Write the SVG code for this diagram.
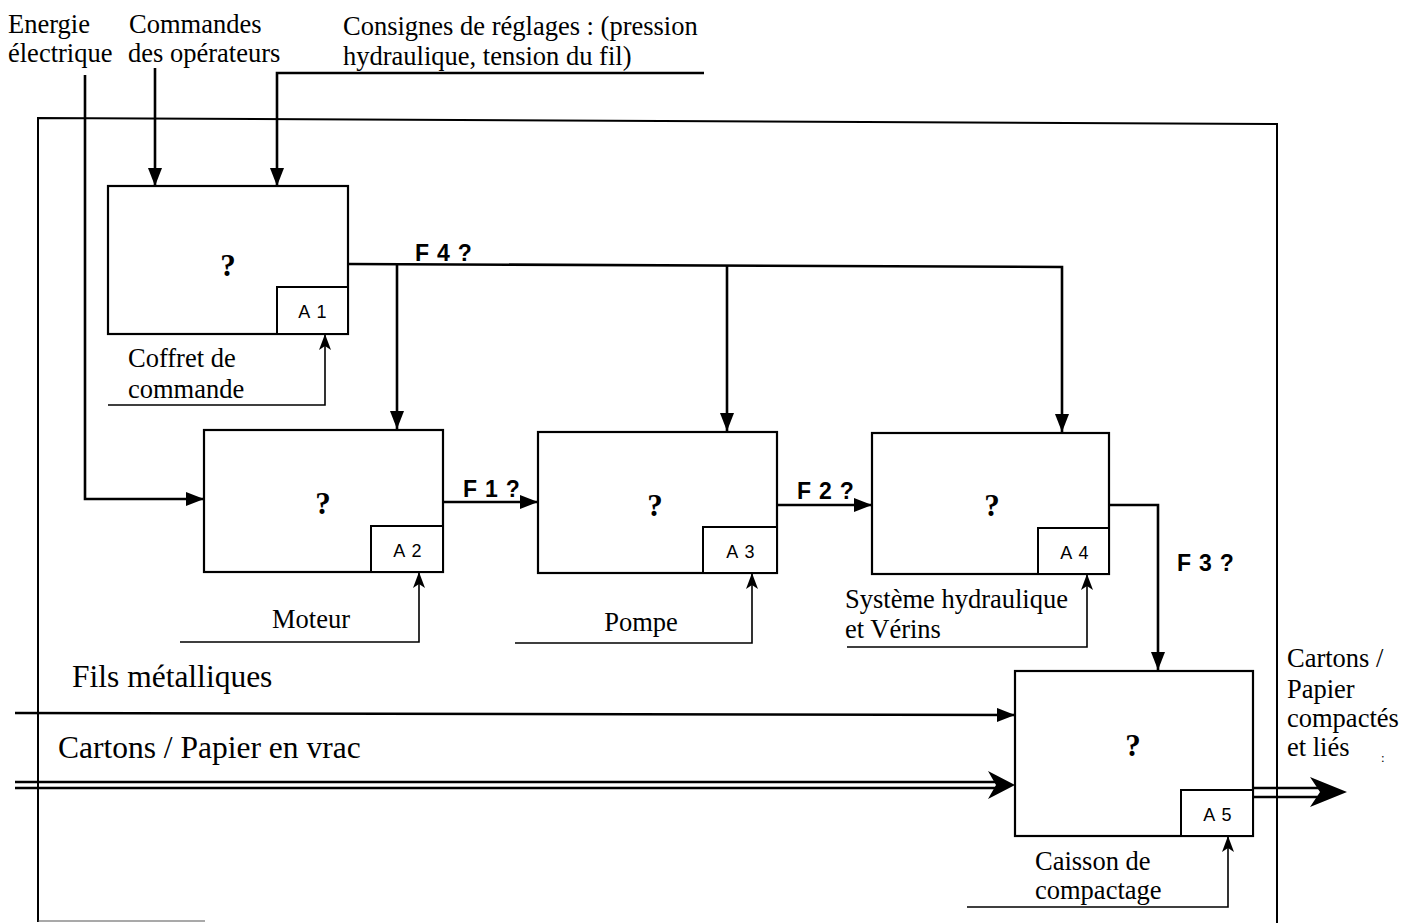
<svg xmlns="http://www.w3.org/2000/svg" width="1416" height="923" viewBox="0 0 1416 923">
<style>
.box{fill:#fff;stroke:#000;stroke-width:2.2}
.lbl{fill:#fff;stroke:#000;stroke-width:2}
.t{font-family:"Liberation Serif","Times New Roman",serif;fill:#000;font-size:26.5px}
.big{font-size:31.5px}
.s{font-family:"Liberation Sans",Arial,sans-serif;fill:#000}
.q{font-family:"Liberation Serif",serif;font-weight:bold;font-size:31px;text-anchor:middle}
.a{font-size:18px;text-anchor:middle;letter-spacing:1.2px}
.f{font-size:23px;font-weight:bold;letter-spacing:0.8px}
.c{fill:none;stroke:#000;stroke-width:2.6}
.m{fill:none;stroke:#000;stroke-width:1.6}
</style>
<defs>
<marker id="arr" markerUnits="userSpaceOnUse" markerWidth="20" markerHeight="16" refX="18" refY="7" orient="auto"><path d="M0,0 L18,7 L0,14 z" fill="#000"/></marker>
<marker id="barb" markerUnits="userSpaceOnUse" markerWidth="18" markerHeight="14" refX="16" refY="6" orient="auto"><path d="M0,0 L16,6 L0,12 L4,6 z" fill="#000"/></marker>
</defs>
<g id="boundary">
<path d="M38,922 L38,118 L1277,124 L1277,923" fill="none" stroke="#000" stroke-width="2"/>
<line x1="38" y1="921" x2="205" y2="921" stroke="#555" stroke-width="1.2"/>
</g>
<g id="labels">
<text class="t" x="8" y="33">Energie</text>
<text class="t" x="8" y="62">électrique</text>
<text class="t" x="129" y="33">Commandes</text>
<text class="t" x="128" y="62">des opérateurs</text>
<text class="t" x="343" y="35">Consignes de réglages : (pression</text>
<text class="t" x="343" y="65">hydraulique, tension du fil)</text>
<text class="t big" x="72" y="687">Fils métalliques</text>
<text class="t big" x="58" y="758">Cartons / Papier en vrac</text>
<text class="t" x="1287" y="667">Cartons /</text>
<text class="t" x="1287" y="698">Papier</text>
<text class="t" x="1287" y="727">compactés</text>
<text class="t" x="1287" y="756">et liés</text>
<text class="t" x="1381" y="762" style="font-size:13px">:</text>
<text class="s f" x="415" y="261">F 4 ?</text>
<text class="s f" x="463" y="497">F 1 ?</text>
<text class="s f" x="797" y="499">F 2 ?</text>
<text class="s f" x="1177" y="571">F 3 ?</text>
</g>
<g id="connectors">
<path class="c" d="M85,75 L85,499 L204,499" marker-end="url(#arr)"/>
<path class="c" d="M155,68 L155,186" marker-end="url(#arr)"/>
<path class="c" d="M704,73 L277,73 L277,186" marker-end="url(#arr)"/>
<path class="c" d="M348,264 L1062,267 L1062,432" marker-end="url(#arr)"/>
<path class="c" d="M397,265 L397,429" marker-end="url(#arr)"/>
<path class="c" d="M727,266 L727,431" marker-end="url(#arr)"/>
<path class="c" d="M443,502 L538,502" marker-end="url(#arr)"/>
<path class="c" d="M777,505 L872,505" marker-end="url(#arr)"/>
<path class="c" d="M1109,505 L1158,505 L1158,670" marker-end="url(#arr)"/>
<path class="c" d="M15,713 L1015,715" marker-end="url(#arr)"/>
<path d="M15,782 L1000,782 M15,788 L1000,788" stroke="#000" stroke-width="2.6" fill="none"/>
<path d="M1015,785 L988,771 L996,785 L988,799 z" fill="#000"/>
<path d="M1253,788 L1320,788 M1253,797 L1320,797" stroke="#000" stroke-width="2.6" fill="none"/>
<path d="M1347,792 L1310,777 L1320,792 L1310,807 z" fill="#000"/>
<path class="m" d="M108,405 L325,405 L325,334" marker-end="url(#barb)"/>
<path class="m" d="M180,642 L419,642 L419,572" marker-end="url(#barb)"/>
<path class="m" d="M515,643 L752,643 L752,573" marker-end="url(#barb)"/>
<path class="m" d="M847,647 L1087,647 L1087,574" marker-end="url(#barb)"/>
<path class="m" d="M967,907 L1228,907 L1228,836" marker-end="url(#barb)"/>
</g>
<g id="A1">
<rect class="box" x="108" y="186" width="240" height="148"/>
<rect class="lbl" x="277" y="287" width="71" height="47"/>
<text class="q" x="228" y="276">?</text>
<text class="s a" x="313" y="318">A 1</text>
<text class="t" x="128" y="367">Coffret de</text>
<text class="t" x="128" y="398">commande</text>
</g>
<g id="A2">
<rect class="box" x="204" y="430" width="239" height="142"/>
<rect class="lbl" x="371" y="526" width="72" height="46"/>
<text class="q" x="323" y="514">?</text>
<text class="s a" x="408" y="557">A 2</text>
<text class="t" x="311" y="628" text-anchor="middle">Moteur</text>
</g>
<g id="A3">
<rect class="box" x="538" y="432" width="239" height="141"/>
<rect class="lbl" x="703" y="527" width="74" height="46"/>
<text class="q" x="655" y="516">?</text>
<text class="s a" x="741" y="558">A 3</text>
<text class="t" x="641" y="631" text-anchor="middle">Pompe</text>
</g>
<g id="A4">
<rect class="box" x="872" y="433" width="237" height="141"/>
<rect class="lbl" x="1038" y="528" width="71" height="46"/>
<text class="q" x="992" y="516">?</text>
<text class="s a" x="1075" y="559">A 4</text>
<text class="t" x="845" y="608">Système hydraulique</text>
<text class="t" x="845" y="638">et Vérins</text>
</g>
<g id="A5">
<rect class="box" x="1015" y="671" width="238" height="165"/>
<rect class="lbl" x="1181" y="790" width="72" height="46"/>
<text class="q" x="1133" y="756">?</text>
<text class="s a" x="1218" y="821">A 5</text>
<text class="t" x="1035" y="870">Caisson de</text>
<text class="t" x="1035" y="899">compactage</text>
</g>
</svg>
